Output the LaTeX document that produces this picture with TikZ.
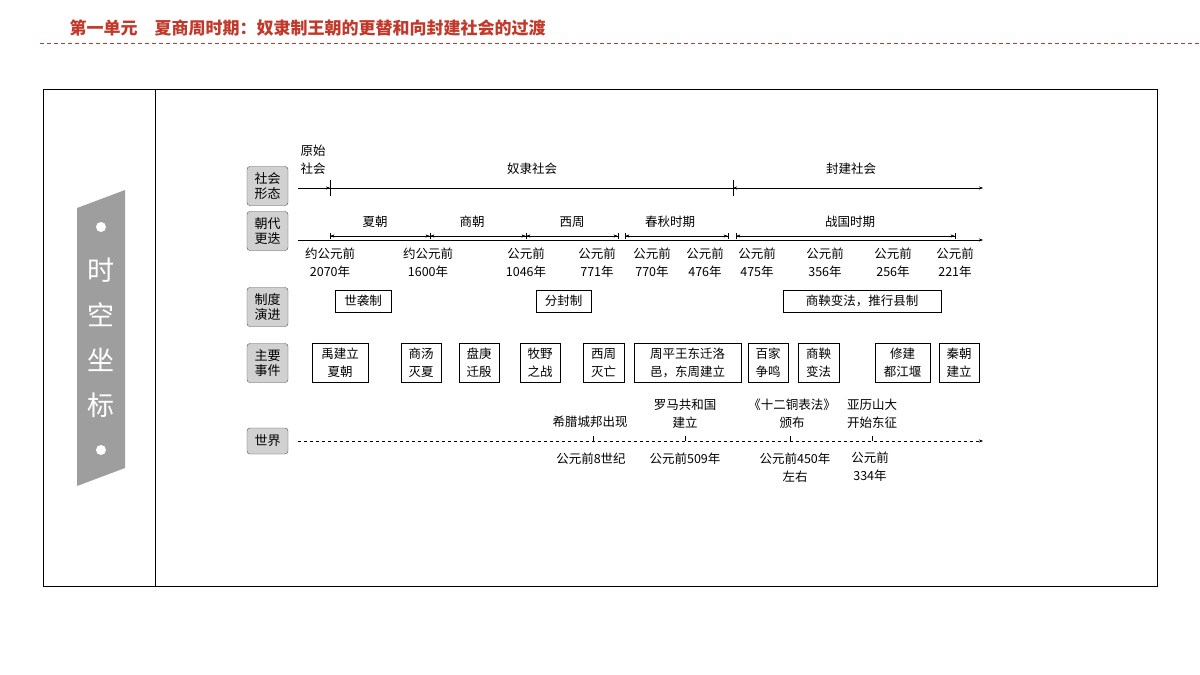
\documentclass[tikz,border=0pt]{standalone}
\usepackage{fontspec}
\setmainfont{Noto Sans CJK SC}
\usetikzlibrary{arrows.meta}
\definecolor{tred}{HTML}{C0392B}
\begin{document}
\begin{tikzpicture}[x=1pt,y=-1pt,
  lab/.style={draw=black!70,fill=black!18,rounded corners=3pt,minimum width=41pt,minimum height=39pt,font=\fontsize{13}{15}\selectfont,align=center,inner sep=1pt},
  txt/.style={font=\fontsize{12.5}{18}\selectfont,align=center,inner sep=0pt},
  ebox/.style={draw,thin,font=\fontsize{12.5}{18}\selectfont,align=center,inner sep=1pt,minimum height=39pt},
  sbox/.style={draw,thin,font=\fontsize{12.5}{15}\selectfont,inner sep=1pt,minimum height=22pt},
  ar/.style={-{Stealth[length=4pt,width=3pt]},thin},
  dim/.style={{Bar[width=6pt]Stealth[length=4pt,width=3pt]}-{Stealth[length=4pt,width=3pt]Bar[width=6pt]},thin}]
\useasboundingbox (0,0) rectangle (1200,675);
\node[anchor=west,text=tred,font=\bfseries\fontsize{17}{18}\selectfont] (title) at (66,28) {第一单元\quad 夏商周时期：奴隶制王朝的更替和向封建社会的过渡};
\draw[tred,dash pattern=on 4pt off 3pt,thick] (40,43) -- (1200,43);
\draw[thick] (43,89) rectangle (1157,586);
\draw[thick] (155,89) -- (155,586);
\fill[black!38] (77,208) -- (125,190) -- (125,468) -- (77,486) -- cycle;
\foreach \c/\y in {时/270,空/315,坐/360,标/405}
  \node[text=white,font=\fontsize{27}{27}\selectfont] at (101,\y) {\c};
\fill[white] (101,227) circle (5);
\fill[white] (101,450) circle (5);
% row labels
\node[lab] (l1) at (267.5,186) {社会\\形态};
\node[lab] (l2) at (267.5,231) {朝代\\更迭};
\node[lab] (l3) at (267.5,307) {制度\\演进};
\node[lab] (l4) at (267.5,363) {主要\\事件};
\node[lab,minimum height=26pt] (l5) at (267.5,441) {世界};
% row 1
\coordinate (a0) at (298,188); \coordinate (a1) at (983,188);
\draw[ar] (a0) -- (a1);
\draw (330,180) -- (330,196); \draw (733,180) -- (733,196);
\draw[ar] (320,188) -- (330,188); \draw[ar] (743,188) -- (733,188);
\node[txt] (ys) at (313,160) {原始\\社会};
\node[txt] (nl) at (532,169) {奴隶社会};
\node[txt] (fj) at (851,169) {封建社会};
% row 2
\draw[ar] (298,240) -- (983,240);
\draw[dim] (330,236) -- (430,236);
\draw[dim] (430,236) -- (526,236);
\draw[dim] (526,236) -- (618,236);
\draw[dim] (625,236) -- (728,236);
\draw[dim] (736,236) -- (955,236);
\node[txt] at (375,222) {夏朝};
\node[txt] at (472,222) {商朝};
\node[txt] at (572,222) {西周};
\node[txt] at (670,222) {春秋时期};
\node[txt] at (850,222) {战国时期};
\foreach \x/\a/\b in {330/约公元前/2070年,428/约公元前/1600年,526/公元前/1046年,597/公元前/771年,652/公元前/770年,705/公元前/476年,757/公元前/475年,825/公元前/356年,893/公元前/256年,955/公元前/221年}
  \node[txt] at (\x,263) {\a\\\b};
% row 3
\node[sbox,minimum width=56pt] (s1) at (363,301) {世袭制};
\node[sbox,minimum width=55pt] (s2) at (563.5,301) {分封制};
\node[sbox,minimum width=158pt] (s3) at (862,301) {商鞅变法，推行县制};
% row 4
\node[ebox,minimum width=56pt] at (340,363) {禹建立\\夏朝};
\node[ebox,minimum width=40pt] at (421,363) {商汤\\灭夏};
\node[ebox,minimum width=40pt] at (479,363) {盘庚\\迁殷};
\node[ebox,minimum width=40pt] at (540,363) {牧野\\之战};
\node[ebox,minimum width=41pt] at (603.5,363) {西周\\灭亡};
\node[ebox,minimum width=107pt] at (687.5,363) {周平王东迁洛\\邑，东周建立};
\node[ebox,minimum width=40pt] at (768,363) {百家\\争鸣};
\node[ebox,minimum width=41pt] at (818.5,363) {商鞅\\变法};
\node[ebox,minimum width=55pt] at (902.5,363) {修建\\都江堰};
\node[ebox,minimum width=40pt] at (959,363) {秦朝\\建立};
% row 5
\draw[dashed,-{Stealth[length=4pt,width=3pt]}] (298,441) -- (983,441);
\foreach \x in {593,685,790,872} \draw (\x,436) -- (\x,441);
\node[txt] at (590,422) {希腊城邦出现};
\node[txt] at (685,414) {罗马共和国\\建立};
\node[txt] at (792,414) {《十二铜表法》\\颁布};
\node[txt] at (872,414) {亚历山大\\开始东征};
\node[txt] at (591,459) {公元前8世纪};
\node[txt] at (685,459) {公元前509年};
\node[txt] at (795,468) {公元前450年\\左右};
\node[txt] at (870,467) {公元前\\334年};
\end{tikzpicture}
\end{document}
